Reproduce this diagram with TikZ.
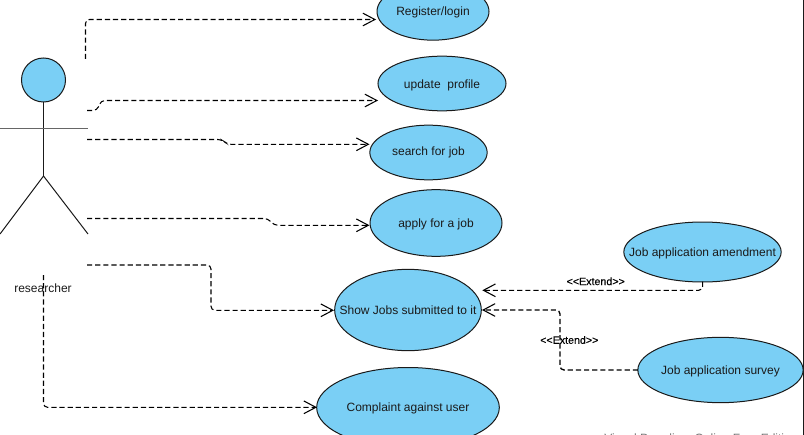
\documentclass[tikz,border=0pt]{standalone}
\usepackage{fontspec}
\setmainfont{Liberation Sans}
\newfontfamily\extfont[FakeBold=0.35]{Liberation Sans}
\usetikzlibrary{arrows.meta,shapes.geometric}
\definecolor{ucblue}{HTML}{7ACFF5}
\definecolor{ucline}{HTML}{1A1A1A}
\newcommand{\zt}[2][3.6pt]{\raisebox{-#1}[0pt][0pt]{\makebox[0pt]{#2}}}
\tikzset{
  x=0.75pt,y=-0.75pt,
  uc/.style={ellipse,draw=ucline,fill=ucblue,line width=0.75pt,inner sep=0pt,text=ucline,font=\fontsize{9}{11}\selectfont},
  conn/.style={draw=black,line width=0.8pt,dash pattern=on 3.9pt off 2.2pt,rounded corners=3pt,-{Straight Barb[length=9pt,width=9.5pt,line width=0.8pt]}},
  stick/.style={draw=ucline,line width=0.75pt},
  lbl/.style={font=\extfont\fontsize{8}{10}\selectfont,inner sep=0pt,text=black},
}
\begin{document}
\begin{tikzpicture}
\useasboundingbox (0,0) rectangle (804,435);
\clip (0,0) rectangle (804,435);
% right edge rule
\coordinate (edgetop) at (803.4,0);
\coordinate (edgebot) at (803.4,435);
\draw[draw=ucline,line width=0.75pt] (edgetop) -- (edgebot);
% actor
\node[circle,draw=ucline,fill=ucblue,line width=0.75pt,minimum size=33pt,inner sep=0pt] (head) at (43.5,80) {};
\coordinate (hip) at (43.5,176);
\coordinate (armL) at (-4,128.5);
\coordinate (armR) at (88,128.5);
\coordinate (footL) at (0,234);
\coordinate (footR) at (88,234);
\draw[stick] (head.south) -- (hip);
\draw[draw=black!60,line width=0.85pt] (armL) -- (armR);
\draw[stick] (footL) -- (hip) -- (footR);
\node[font=\fontsize{9}{11}\selectfont,text=ucline,inner sep=0pt] (actorlabel) at (43,288.5) {researcher};
% use cases
\node[uc,minimum width=84pt,minimum height=43pt] (reg) at (433,11.5) {\zt[3.2pt]{Register/login}};
\node[uc,minimum width=96pt,minimum height=41pt] (upd) at (442,83.5) {\zt[3.4pt]{update\ \ profile}};
\node[uc,minimum width=88pt,minimum height=41pt] (search) at (428.5,152.5) {\zt[2pt]{search for job}};
\node[uc,minimum width=99pt,minimum height=50pt] (apply) at (436,223) {\zt{apply for a job}};
\node[uc,minimum width=110pt,minimum height=61pt] (show) at (408,310) {\zt{Show Jobs submitted to it}};
\node[uc,minimum width=137pt,minimum height=60pt] (comp) at (408,407.5) {\zt[3.2pt]{Complaint against user}};
\node[uc,minimum width=118pt,minimum height=45pt] (amend) at (702.5,252) {\zt{Job application amendment}};
\node[uc,minimum width=124pt,minimum height=49pt] (survey) at (720.5,370) {\zt{Job application survey}};
% connector ends at the actor
\coordinate (a1) at (85.5,59);
\coordinate (a2) at (87,110.5);
\coordinate (a3) at (87,139.5);
\coordinate (a4) at (87,218.5);
\coordinate (a5) at (87,265);
\coordinate (a6) at (43.5,275);
% connector ends at the use cases
\coordinate (regin) at (376,19.5);
\coordinate (updin) at (378,100.5);
\coordinate (searchin) at (369.5,144.3);
\coordinate (applyin) at (369.5,225.3);
\coordinate (showin) at (334,310.3);
\coordinate (compin) at (317,407.3);
\coordinate (showtop) at (482.3,290.3);
\coordinate (showright) at (482,310);
\coordinate (amendout) at (702.7,281.7);
\coordinate (surveyout) at (638,370);
% connectors
\draw[conn] (a1) -- (85.5,19.5) -- (regin);
\draw[conn] (a2) -- (97,110.5) -- (101,100.5) -- (updin);
\draw[conn] (a3) -- (222,139.5) -- (227,144.3) -- (searchin);
\draw[conn] (a4) -- (268,218.5) -- (274,225.3) -- (applyin);
\draw[conn] (a5) -- (211,265) -- (211,310.3) -- (showin);
\draw[conn] (a6) -- (43.5,407.3) -- (compin);
\draw[conn] (amendout) -- (702.7,290.3) -- (showtop);
\draw[conn,line width=1pt] (surveyout) -- (560,370) -- (560,310) -- (showright);
% labels
\node[lbl] (ext1) at (595.7,281.3) {<{}<Extend>{}>};
\node[lbl] (ext2) at (569.3,340) {<{}<Extend>{}>};
\node[font=\fontsize{9}{11}\selectfont,text=black!55,inner sep=0pt,anchor=base west] (wm) at (604,442) {Visual Paradigm Online Free Edition};
\end{tikzpicture}
\end{document}
